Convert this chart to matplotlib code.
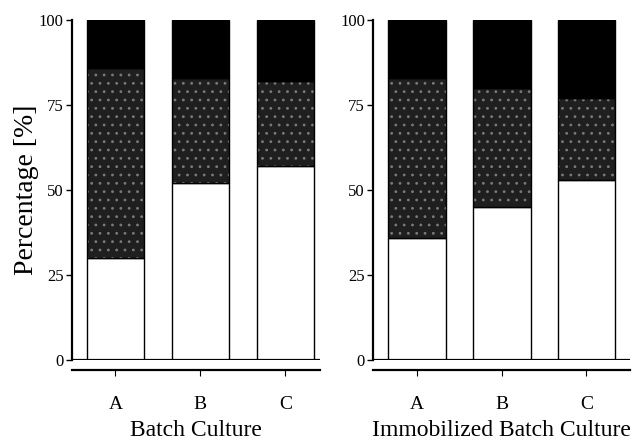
import numpy as np
import matplotlib.pyplot as plt

plt.rcParams['font.family'] = ['Liberation Serif', 'DejaVu Serif']
plt.rcParams['hatch.linewidth'] = 0.8

samples = ['A', 'B', 'C']

# segment boundaries (percent)
batch_low = [30, 52, 57]
batch_mid = [86, 83, 82]
immob_low = [36, 45, 53]
immob_mid = [83, 80, 77]

panels = [
    ('Batch Culture', batch_low, batch_mid, [0.113, 0.187, 0.389, 0.768], (-0.51, 2.41)),
    ('Immobilized Batch Culture', immob_low, immob_mid, [0.585, 0.187, 0.403, 0.768], (-0.52, 2.52)),
]

fig = plt.figure(figsize=(6.38, 4.43), dpi=100)

for i, (title, low, mid, pos, xl) in enumerate(panels):
    ax = fig.add_axes(pos)
    x = np.arange(len(samples))
    low = np.array(low)
    mid = np.array(mid)
    w = 0.68
    ax.bar(x, low, width=w, color='white', edgecolor='black', linewidth=1.0)
    ax.bar(x, mid - low, bottom=low, width=w, color='#1f1f1f', edgecolor='#7a7a7a',
           hatch='..', linewidth=0)
    ax.bar(x, mid - low, bottom=low, width=w, color='none', edgecolor='black', linewidth=1.0)
    ax.bar(x, 100 - mid, bottom=mid, width=w, color='black', edgecolor='black', linewidth=1.0)
    ax.axhline(0, color='black', lw=1.6)

    ax.set_xlim(*xl)
    ax.set_ylim(0, 100)
    ax.set_yticks([0, 25, 50, 75, 100])
    ax.set_xticks(x, samples)
    ax.tick_params(axis='y', labelsize=12, length=4, width=1.0, pad=2)
    ax.tick_params(axis='x', labelsize=14, length=4, width=0.8, pad=15)
    for s in ['top', 'right']:
        ax.spines[s].set_visible(False)
    ax.spines['bottom'].set_position(('outward', 7))
    ax.spines['bottom'].set_linewidth(1.6)
    ax.spines['left'].set_linewidth(1.6)
    ax.set_xlabel(title, fontsize=17, labelpad=5)
    if i == 0:
        ax.set_ylabel('Percentage [%]', fontsize=20, labelpad=0)

fig.savefig('out.png', dpi=100)
